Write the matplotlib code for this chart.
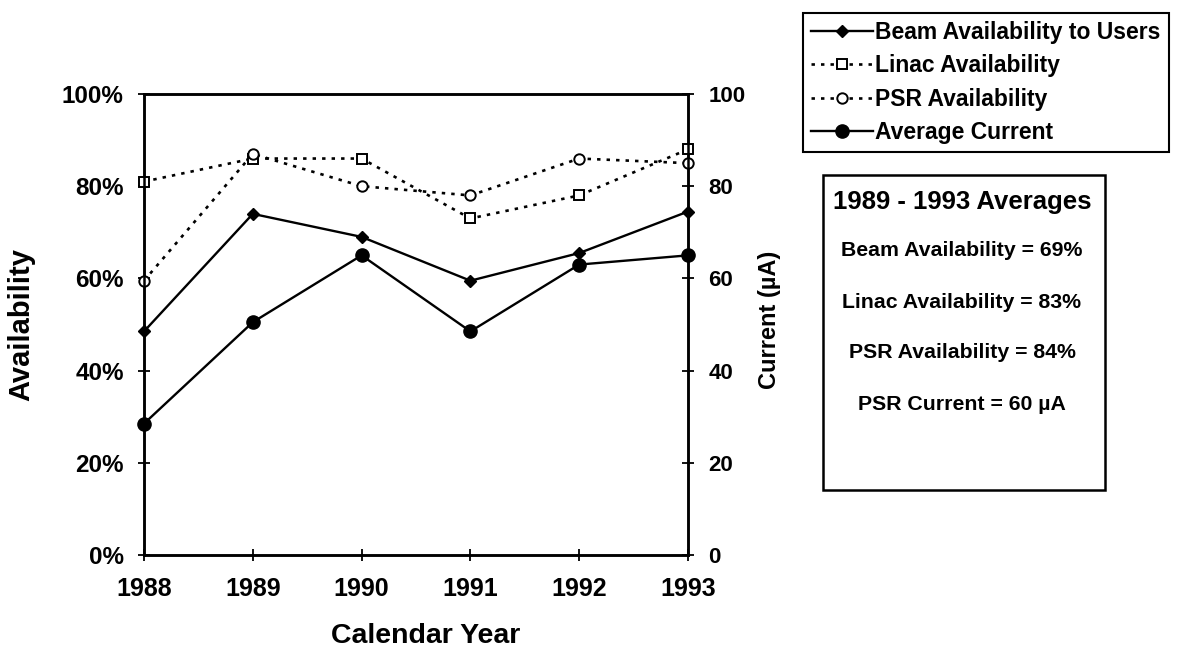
import matplotlib
matplotlib.use("Agg")
import matplotlib.pyplot as plt
from matplotlib.patches import Rectangle

plt.rcParams["font.family"] = ["Liberation Sans", "DejaVu Sans"]
plt.rcParams["font.weight"] = "bold"

YEARS = [1988, 1989, 1990, 1991, 1992, 1993]
BEAM = [48.5, 74, 69, 59.5, 65.5, 74.5]
LINAC = [81, 86, 86, 73, 78, 88]
PSR = [59.5, 87, 80, 78, 86, 85]
CURRENT = [28.5, 50.5, 65, 48.5, 63, 65]

LEFT_TICKS = [0, 20, 40, 60, 80, 100]
LEFT_LABELS = ["0%", "20%", "40%", "60%", "80%", "100%"]
RIGHT_TICKS = [0, 20, 40, 60, 80, 100]
RIGHT_LABELS = ["0", "20", "40", "60", "80", "100"]

SERIES_NAMES = ["Beam Availability to Users", "Linac Availability",
                "PSR Availability", "Average Current"]
AVG_TITLE = "1989 - 1993 Averages"
AVG_LINES = ["Beam Availability = 69%", "Linac Availability = 83%",
             "PSR Availability = 84%", "PSR Current = 60 \u00b5A"]

W, H = 1180, 647
fig = plt.figure(figsize=(W / 100, H / 100), dpi=100)
ax = fig.add_axes([144 / W, 1 - 555 / H, (688 - 144) / W, (555 - 94) / H])
ax2 = ax.twinx()

dots = (0, (1.3, 2.3))
h1, = ax.plot(YEARS, BEAM, color="black", lw=1.7, marker="D", ms=6,
              mfc="black", clip_on=False, zorder=3)
h2, = ax.plot(YEARS, LINAC, color="black", lw=1.9, ls=dots, marker="s", ms=7.5,
              mfc="white", mew=1.4, clip_on=False, zorder=3)
h3, = ax.plot(YEARS, PSR, color="black", lw=1.9, ls=dots, marker="o", ms=7.5,
              mfc="white", mew=1.4, clip_on=False, zorder=3)
h4, = ax2.plot(YEARS, CURRENT, color="black", lw=1.7, marker="o", ms=9.5,
               mfc="black", clip_on=False, zorder=3)

ax.set_xlim(YEARS[0], YEARS[-1])
ax.set_ylim(0, 100)
ax2.set_ylim(0, 100)
ax.set_xticks(YEARS)
ax.set_xticklabels([str(y) for y in YEARS], fontsize=18, fontweight="bold")
ax.set_yticks(LEFT_TICKS)
ax.set_yticklabels(LEFT_LABELS, fontsize=17.5, fontweight="bold")
ax2.set_yticks(RIGHT_TICKS)
ax2.set_yticklabels(RIGHT_LABELS, fontsize=16, fontweight="bold")

ax.tick_params(axis="both", direction="inout", length=9, width=1.3, color="black")
ax.tick_params(axis="y", pad=10)
ax.tick_params(axis="x", pad=11)
ax2.tick_params(axis="y", direction="inout", length=9, width=1.3, pad=10)
for a in (ax, ax2):
    for s in a.spines.values():
        s.set_linewidth(1.8)

ax.set_ylabel("Availability", fontsize=21, fontweight="bold")
ax.yaxis.set_label_coords(-0.200, 0.5)
ax.set_xlabel("Calendar Year", fontsize=20.5, fontweight="bold")
ax.xaxis.set_label_coords(0.518, -0.148)
ax2.set_ylabel("Current (\u00b5A)", fontsize=17, fontweight="bold")
ax2.yaxis.set_label_coords(1.129, 0.51)

leg = fig.legend([h1, h2, h3, h4], SERIES_NAMES, loc="upper left",
                 bbox_to_anchor=(803 / W, 1 - 13 / H), borderaxespad=0,
                 handlelength=2.7, handletextpad=0.1,
                 labelspacing=0.45, borderpad=0.35, fancybox=False,
                 framealpha=1, edgecolor="black", prop={"weight": "bold", "size": 16.5})
leg.get_frame().set_linewidth(1.5)

box = Rectangle((823 / W, 1 - 490 / H), (1105 - 823) / W, (490 - 175) / H,
                transform=fig.transFigure, fill=False, edgecolor="black", lw=1.8)
fig.patches.append(box)
fig.text(962 / W, 1 - 202 / H, AVG_TITLE, ha="center", va="center",
         fontsize=18.5, fontweight="bold")
for py, txt in zip([250, 302, 353, 405], AVG_LINES):
    fig.text(962 / W, 1 - py / H, txt, ha="center", va="center",
             fontsize=15.3, fontweight="bold")

fig.savefig("out.png", dpi=100)
